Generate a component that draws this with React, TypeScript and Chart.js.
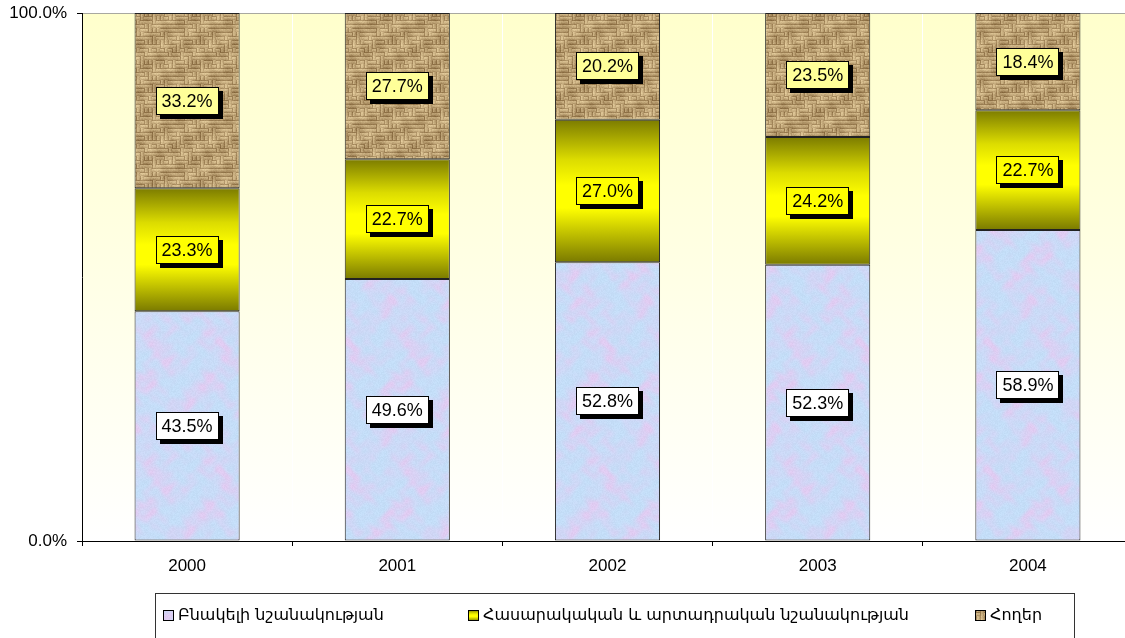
import React, { useEffect, useRef } from 'react';
import { Chart, registerables } from 'chart.js';

Chart.register(...registerables);

const categories = ['2000', '2001', '2002', '2003', '2004'];
const residential = [43.5, 49.6, 52.8, 52.3, 58.9];
const publicIndustrial = [23.3, 22.7, 27.0, 24.2, 22.7];
const land = [33.2, 27.7, 20.2, 23.5, 18.4];
const seriesNames = [
  'Բնակելի նշանակության',
  'Հասարակական և արտադրական նշանակության',
  'Հողեր',
];
const yTicks = [0, 100];

const NUM_FONT = '"Liberation Sans", Arial, sans-serif';
const LEGEND_FONT = '"DejaVu Sans", sans-serif';

function hash(a: number, b: number): number {
  const s = Math.sin(a * 12.9898 + b * 78.233) * 43758.5453;
  return s - Math.floor(s);
}

function makeMarble(): HTMLCanvasElement {
  const S = 128;
  const c = document.createElement('canvas');
  c.width = S;
  c.height = S;
  const g = c.getContext('2d')!;
  const img = g.createImageData(S, S);
  const w = (Math.PI * 2) / S;
  for (let y = 0; y < S; y++) {
    for (let x = 0; x < S; x++) {
      const t =
        Math.sin(x * w * 2 + 1.8 * Math.sin(y * w * 1)) +
        Math.sin(y * w * 3 + 2.2 * Math.sin(x * w * 2)) +
        0.6 * Math.sin(x * w * 7 + 1.5 * Math.sin(y * w * 5)) +
        0.5 * Math.sin(y * w * 9 + 1.5 * Math.sin(x * w * 6));
      let n = Math.min(1, Math.max(0, (t + 2.4) / 4.8));
      n = Math.pow(n, 1.8);
      const speck = (hash(x, y) - 0.5) * 8;
      const r = 196 + (224 - 196) * n + speck;
      const gg = 222 + (204 - 222) * n + speck;
      const b = 248 + (242 - 248) * n + speck;
      const i = (y * S + x) * 4;
      img.data[i] = r;
      img.data[i + 1] = gg;
      img.data[i + 2] = b;
      img.data[i + 3] = 255;
    }
  }
  g.putImageData(img, 0, 0);
  return c;
}

function makeBurlap(): HTMLCanvasElement {
  const S = 48;
  const c = document.createElement('canvas');
  c.width = S;
  c.height = S;
  const g = c.getContext('2d')!;
  const img = g.createImageData(S, S);
  const w = (Math.PI * 2) / S;
  for (let y = 0; y < S; y++) {
    for (let x = 0; x < S; x++) {
      const cx = Math.floor(x / 4);
      const cy = Math.floor(y / 4);
      const horiz = hash(cx + 1, cy + 7) < 0.6;
      const p = horiz ? y % 4 : x % 4;
      let v = p === 0 ? -0.8 : p === 1 ? 0.7 : p === 2 ? 0.4 : -0.1;
      v += 0.35 * Math.sin(x * w * 1 + y * w * 2) + 0.25 * Math.sin(x * w * 3 - y * w * 1);
      v += (hash(x + 3, y + 11) - 0.5) * 0.5;
      const r = 182 + v * 32;
      const gg = 155 + v * 34;
      const b = 110 + v * 32;
      const i = (y * S + x) * 4;
      img.data[i] = r;
      img.data[i + 1] = gg;
      img.data[i + 2] = b;
      img.data[i + 3] = 255;
    }
  }
  g.putImageData(img, 0, 0);
  return c;
}

function yellowGradient(ctx: CanvasRenderingContext2D, top: number, bottom: number) {
  const g = ctx.createLinearGradient(0, top, 0, bottom);
  g.addColorStop(0, '#7c7c00');
  g.addColorStop(0.28, '#dcdc00');
  g.addColorStop(0.46, '#ffff00');
  g.addColorStop(0.62, '#ffff00');
  g.addColorStop(0.88, '#a4a400');
  g.addColorStop(1, '#7a7a00');
  return g;
}

export default function App() {
  const ref = useRef<HTMLCanvasElement | null>(null);

  useEffect(() => {
    const canvas = ref.current;
    if (!canvas) return;
    const ctx2d = canvas.getContext('2d')!;
    const marble = ctx2d.createPattern(makeMarble(), 'repeat')!;
    const burlap = ctx2d.createPattern(makeBurlap(), 'repeat')!;

    const labelFills = ['#ffffff', '#ffff00', '#ffff99'];

    const bgPlugin = {
      id: 'plotBg',
      beforeDraw(chart: any) {
        const { ctx, chartArea: a } = chart;
        ctx.save();
        ctx.fillStyle = '#ffffff';
        ctx.fillRect(0, 0, chart.width, chart.height);
        const g = ctx.createLinearGradient(0, a.top, 0, a.bottom);
        g.addColorStop(0, '#ffffcc');
        g.addColorStop(1, '#ffffff');
        ctx.fillStyle = g;
        ctx.fillRect(a.left, a.top, a.right - a.left, a.bottom - a.top);
        ctx.restore();
      },
    };

    const labelPlugin = {
      id: 'boxLabels',
      afterDatasetsDraw(chart: any) {
        const { ctx } = chart;
        ctx.save();
        ctx.font = `18px ${NUM_FONT}`;
        ctx.textAlign = 'center';
        ctx.textBaseline = 'middle';
        chart.data.datasets.forEach((ds: any, di: number) => {
          const meta = chart.getDatasetMeta(di);
          meta.data.forEach((el: any, i: number) => {
            const v = ds.data[i] as number;
            const text = v.toFixed(1) + '%';
            const cx = el.x;
            const cy = (el.y + el.base) / 2;
            const tw = ctx.measureText(text).width;
            const bw = Math.round(tw + 12);
            const bh = 28;
            const l = Math.round(cx - bw / 2);
            const t = Math.round(cy - bh / 2);
            ctx.fillStyle = '#000';
            ctx.fillRect(l + 4, t + 4, bw, bh);
            ctx.fillStyle = labelFills[di];
            ctx.fillRect(l, t, bw, bh);
            ctx.strokeStyle = '#000';
            ctx.lineWidth = 1;
            ctx.strokeRect(l + 0.5, t + 0.5, bw - 1, bh - 1);
            ctx.fillStyle = '#000';
            ctx.fillText(text, cx, cy + 1);
          });
        });
        ctx.restore();
      },
    };

    const legendPlugin = {
      id: 'boxLegend',
      afterDraw(chart: any) {
        const { ctx } = chart;
        ctx.save();
        ctx.strokeStyle = '#333';
        ctx.lineWidth = 1;
        ctx.strokeRect(155.5, 593.5, 919, 60);
        const xs = [163, 468, 975];
        const fills: any[] = [marble, null, burlap];
        const my = 610;
        ctx.font = `16px ${LEGEND_FONT}`;
        ctx.textBaseline = 'middle';
        ctx.textAlign = 'left';
        seriesNames.forEach((name, i) => {
          const x = xs[i];
          ctx.fillStyle = fills[i] ?? yellowGradient(ctx, my, my + 11);
          ctx.fillRect(x, my, 11, 11);
          ctx.strokeStyle = '#000';
          ctx.strokeRect(x + 0.5, my + 0.5, 10, 10);
          ctx.fillStyle = '#000';
          ctx.fillText(name, x + 15, my + 6);
        });
        ctx.restore();
      },
    };

    const midColor = (c: any) => {
      const chart = c.chart;
      const y = chart.scales?.y;
      const i = c.dataIndex;
      if (!y || i === undefined || !chart.chartArea) return '#ffff00';
      const start = residential[i];
      const end = start + publicIndustrial[i];
      return yellowGradient(chart.ctx, y.getPixelForValue(end), y.getPixelForValue(start));
    };

    const common = {
      borderColor: '#222',
      borderWidth: 1,
      borderSkipped: false,
      barPercentage: 0.5,
      categoryPercentage: 1,
    };

    const chart = new Chart(canvas, {
      type: 'bar',
      data: {
        labels: categories,
        datasets: [
          { label: seriesNames[0], data: residential, backgroundColor: marble as any, ...common },
          { label: seriesNames[1], data: publicIndustrial, backgroundColor: midColor as any, ...common },
          { label: seriesNames[2], data: land, backgroundColor: burlap as any, ...common },
        ],
      },
      options: {
        animation: false,
        responsive: true,
        maintainAspectRatio: false,
        layout: { padding: { top: 13, right: 0, bottom: 62, left: 0 } },
        plugins: {
          legend: { display: false },
          tooltip: { enabled: false },
        },
        scales: {
          x: {
            stacked: true,
            offset: true,
            grid: {
              offset: true,
              color: '#ffffff',
              lineWidth: 1,
              tickColor: '#000',
              tickLength: 5,
            },
            border: { color: '#000', width: 1 },
            ticks: {
              color: '#000',
              font: { family: NUM_FONT, size: 17 },
              padding: 10,
            },
            afterFit(scale: any) {
              scale.height = 35;
            },
          },
          y: {
            stacked: true,
            min: 0,
            max: 100,
            grid: {
              color: (c: any) => (c.tick && c.tick.value === 100 ? '#a8a8a0' : 'rgba(0,0,0,0)'),
              lineWidth: 1,
              tickColor: '#000',
              tickLength: 5,
            },
            border: { color: '#000', width: 1 },
            afterBuildTicks(scale: any) {
              scale.ticks = yTicks.map((v) => ({ value: v }));
            },
            ticks: {
              color: '#000',
              font: { family: NUM_FONT, size: 17 },
              padding: 10,
              callback: (v: any) => Number(v).toFixed(1) + '%',
            },
            afterFit(scale: any) {
              scale.width = 82;
              scale.paddingTop = 0;
              scale.paddingBottom = 0;
            },
          },
        },
      },
      plugins: [bgPlugin, labelPlugin, legendPlugin],
    });

    return () => chart.destroy();
  }, []);

  return (
    <div style={{ position: 'fixed', left: 0, top: 0, width: 1133, height: 638, overflow: 'hidden' }}>
      <canvas ref={ref} />
    </div>
  );
}
